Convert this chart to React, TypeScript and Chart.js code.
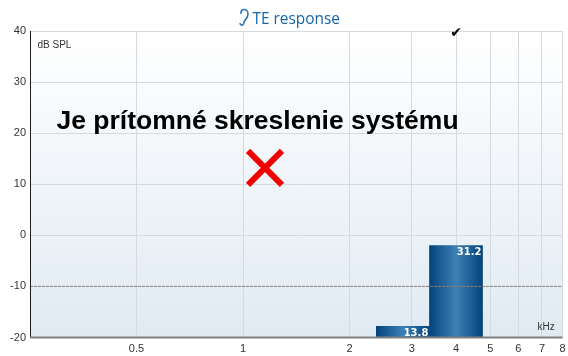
import React, { useEffect, useRef } from "react";
import { Chart, registerables } from "chart.js";

Chart.register(...registerables);

const freqTicks = [0.5, 1, 2, 3, 4, 5, 6, 7, 8];
const levelTicks = [-20, -10, 0, 10, 20, 30, 40];
const barFreqs = [2.83, 4];
const barLevels = [-17.8, -2];
const barLabels = ["13.8", "31.2"];
const noiseFreqs = [0.25, 8];
const noiseLevels = [-10, -10];
const crossFreq = [1.154];
const crossLevel = [13.2];
const checkFreq = 4;
const checkLevel = 39.6;
const titleText = "TE response";
const yUnit = "dB SPL";
const xUnit = "kHz";
const message = "Je prítomné skreslenie systému";

const BAR_W = 53;

const noPad = (s: any) => {
  s.paddingLeft = 0;
  s.paddingRight = 0;
  s.paddingTop = 0;
  s.paddingBottom = 0;
};

const decor = {
  id: "decor",
  beforeDraw(chart: any) {
    const { ctx, chartArea: a } = chart;
    const g = ctx.createLinearGradient(0, a.top, 0, a.bottom);
    g.addColorStop(0, "#ffffff");
    g.addColorStop(1, "#e0eaf3");
    ctx.save();
    ctx.fillStyle = g;
    ctx.fillRect(a.left, a.top, a.right - a.left, a.bottom - a.top);
    ctx.restore();
  },
  afterDatasetsDraw(chart: any) {
    const { ctx, chartArea: a, scales } = chart;
    ctx.save();
    // axes lines
    ctx.strokeStyle = "#1c1c1c";
    ctx.lineWidth = 1;
    ctx.beginPath();
    ctx.moveTo(a.left + 0.5, a.top);
    ctx.lineTo(a.left + 0.5, a.bottom);
    ctx.stroke();
    ctx.strokeStyle = "#808080";
    ctx.lineWidth = 2;
    ctx.beginPath();
    ctx.moveTo(a.left, a.bottom);
    ctx.lineTo(a.right, a.bottom);
    ctx.stroke();

    // bar value labels
    const meta = chart.getDatasetMeta(0);
    ctx.fillStyle = "#ffffff";
    ctx.font = "bold 10px 'DejaVu Sans'";
    ctx.textAlign = "right";
    ctx.textBaseline = "middle";
    meta.data.forEach((el: any, i: number) => {
      ctx.fillText(barLabels[i], el.x + BAR_W / 2 - 1, el.y + 7);
    });

    // units
    ctx.fillStyle = "#333";
    ctx.font = "10px 'Liberation Sans'";
    ctx.textAlign = "left";
    ctx.fillText(yUnit, 37.5, 45.5);
    ctx.fillText(xUnit, 537.5, 327);

    // message
    ctx.fillStyle = "#000";
    ctx.font = "bold 26.5px 'Liberation Sans'";
    ctx.textAlign = "left";
    ctx.fillText(message, 56.5, 122);

    // check mark
    ctx.font = "14px 'DejaVu Sans'";
    ctx.textAlign = "center";
    ctx.fillText("\u2714", scales.x.getPixelForValue(checkFreq), scales.y.getPixelForValue(checkLevel));

    // title
    ctx.fillStyle = "#1565a8";
    ctx.font = "15.4px 'Open Sans'";
    ctx.textAlign = "left";
    ctx.fillText(titleText, 252.5, 19.5);

    // ear icon
    ctx.strokeStyle = "#2a78b8";
    ctx.lineWidth = 1.6;
    ctx.beginPath();
    ctx.moveTo(241, 14);
    ctx.bezierCurveTo(240, 8, 248, 8, 248, 14);
    ctx.bezierCurveTo(248, 19, 244, 19, 243.5, 24);
    ctx.bezierCurveTo(242.5, 26, 240, 25, 240, 23);
    ctx.stroke();
    ctx.restore();
  },
};

export default function App() {
  const ref = useRef<HTMLCanvasElement>(null);
  useEffect(() => {
    document.body.style.margin = "0";
    const chart = new Chart(ref.current as HTMLCanvasElement, {
      type: "bar",
      data: {
        datasets: [
          {
            type: "bar",
            data: barFreqs.map((x, i) => ({ x, y: barLevels[i] })),
            base: -20,
            barThickness: BAR_W,
            order: 2,
            backgroundColor: (c: any) => {
              const sc = c.chart.scales.x;
              const raw = c.raw;
              if (!sc || !raw) return "#04487c";
              const cx = sc.getPixelForValue(raw.x);
              if (!Number.isFinite(cx)) return "#04487c";
              const g = c.chart.ctx.createLinearGradient(cx - BAR_W / 2, 0, cx + BAR_W / 2, 0);
              g.addColorStop(0, "#03437a");
              g.addColorStop(0.5, "#3d80b4");
              g.addColorStop(1, "#03437a");
              return g;
            },
          },
          {
            type: "line",
            data: noiseFreqs.map((x, i) => ({ x, y: noiseLevels[i] })),
            borderColor: "#808080",
            borderWidth: 1,
            borderDash: [3, 1],
            pointRadius: 0,
            order: 1,
          },
          {
            type: "scatter",
            data: crossFreq.map((x, i) => ({ x, y: crossLevel[i] })),
            pointStyle: "crossRot",
            pointRadius: 24,
            borderColor: "#f00000",
            pointBorderColor: "#f00000",
            pointBorderWidth: 6,
            order: 0,
          },
        ] as any,
      },
      options: {
        responsive: false,
        animation: false,
        layout: { autoPadding: false, padding: { top: 31, right: 5.5, left: 0, bottom: 0 } },
        plugins: { legend: { display: false }, tooltip: { enabled: false } },
        scales: {
          x: {
            type: "logarithmic",
            min: 0.25,
            max: 8,
            offset: false,
            afterBuildTicks: (s: any) => {
              s.ticks = freqTicks.map((value) => ({ value }));
            },
            afterFit: (s: any) => {
              s.height = 18.5;
              noPad(s);
            },
            ticks: {
              autoSkip: false,
              maxRotation: 0,
              padding: 5,
              color: "#333",
              font: { family: "Liberation Sans", size: 11 },
              callback: (v: any) => String(v),
            },
            grid: { color: "#d6dade", drawTicks: false, lineWidth: 1, offset: false },
            border: { display: false },
          },
          y: {
            min: -20,
            max: 40,
            afterBuildTicks: (s: any) => {
              s.ticks = levelTicks.map((value) => ({ value }));
            },
            afterFit: (s: any) => {
              s.width = 30;
              noPad(s);
            },
            ticks: {
              padding: 4,
              color: "#333",
              font: { family: "Liberation Sans", size: 11 },
            },
            grid: { color: "#d6dade", drawTicks: false, lineWidth: 1 },
            border: { display: false },
          },
        },
      },
      plugins: [decor],
    } as any);
    return () => chart.destroy();
  }, []);
  return <canvas ref={ref} width={568} height={356} style={{ display: "block" }} />;
}
